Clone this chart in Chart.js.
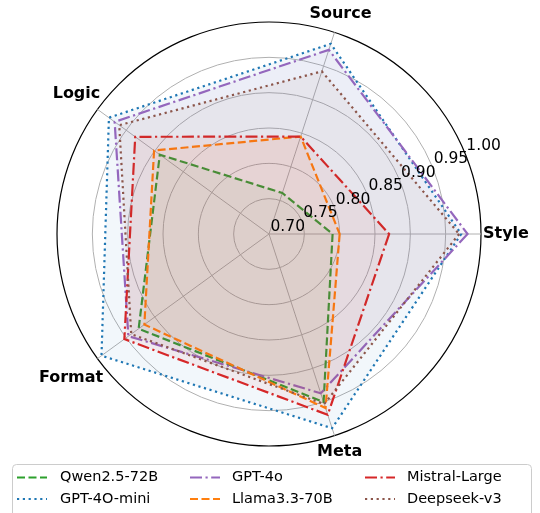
<!DOCTYPE html>
<html>
<head>
<meta charset="utf-8">
<script src="https://cdn.jsdelivr.net/npm/chart.js@4/dist/chart.umd.min.js"></script>
<style>
  html, body { margin: 0; padding: 0; background: #fff; }
  #wrap { width: 540px; height: 513px; position: relative; }
</style>
</head>
<body>
<div id="wrap"><canvas id="radar"></canvas></div>
<script>
  // Sumbu (urutan searah jarum jam mulai dari kanan)
  var categories = ["Style", "Meta", "Format", "Logic", "Source"];
  var tickLabels = ["0.70", "0.75", "0.80", "0.85", "0.90", "0.95", "1.00"];

  var modelNames = ["Qwen2.5-72B", "GPT-4O-mini", "GPT-4o", "Llama3.3-70B", "Mistral-Large", "Deepseek-v3"];

  // Nilai tiap model: Style, Meta, Format, Logic, Source
  var qwenValues      = [0.790, 0.950, 0.928, 0.891, 0.761];
  var gpt4oMiniValues = [0.972, 0.989, 0.993, 0.980, 0.983];
  var gpt4oValues     = [0.981, 0.937, 0.946, 0.970, 0.974];
  var llamaValues     = [0.800, 0.959, 0.918, 0.901, 0.845];
  var mistralValues   = [0.870, 0.969, 0.953, 0.934, 0.845];
  var deepseekValues  = [0.969, 0.953, 0.941, 0.962, 0.942];

  var seriesValues = [qwenValues, gpt4oMiniValues, gpt4oValues, llamaValues, mistralValues, deepseekValues];
  var colors = ["#2ca02c", "#1f77b4", "#9467bd", "#ff7f0e", "#d62728", "#8c564b"];

  var DASHED = [8, 3.5];
  var DOTTED = [2.2, 3.6];
  var DASHDOT = [12, 3.5, 2.2, 3.5];
  var dashes = [DASHED, DOTTED, DASHDOT, DASHED, DASHDOT, DOTTED];

  function withAlpha(hex, a) {
    var r = parseInt(hex.slice(1, 3), 16);
    var g = parseInt(hex.slice(3, 5), 16);
    var b = parseInt(hex.slice(5, 7), 16);
    return "rgba(" + r + "," + g + "," + b + "," + a + ")";
  }

  var datasets = modelNames.map(function (name, i) {
    return {
      label: name,
      data: seriesValues[i],
      borderColor: colors[i],
      backgroundColor: withAlpha(colors[i], 0.06),
      borderWidth: 2.2,
      borderDash: dashes[i],
      fill: true,
      pointRadius: 0,
      pointHoverRadius: 0,
      order: modelNames.length - 1 - i, // yang terakhir digambar paling atas
    };
  });

  // Plugin: label sumbu, label tick, dan legenda kotak 3 kolom
  var extrasPlugin = {
    id: "extras",
    afterDraw: function (chart) {
      var ctx = chart.ctx;
      var scale = chart.scales.r;
      ctx.save();

      // Label sumbu
      ctx.font = "bold 16px 'DejaVu Sans'";
      ctx.fillStyle = "#000";
      ctx.textAlign = "center";
      ctx.textBaseline = "middle";
      categories.forEach(function (cat, i) {
        var base = scale.getPointPosition(i, scale.drawingArea + 2);
        var dx = base.x - scale.xCenter;
        var dy = base.y - scale.yCenter;
        var len = Math.sqrt(dx * dx + dy * dy);
        var ux = dx / len, uy = dy / len;
        var w = ctx.measureText(cat).width;
        var extra = Math.abs(ux) * w / 2 + Math.abs(uy) * 8;
        ctx.fillText(cat, base.x + ux * extra, base.y + uy * extra);
      });

      // Label tick pada sudut 22.5 derajat
      ctx.font = "15.5px 'DejaVu Sans'";
      ctx.textAlign = "left";
      ctx.textBaseline = "alphabetic";
      var ang = 22.5 * Math.PI / 180;
      tickLabels.forEach(function (t) {
        var r = scale.getDistanceFromCenterForValue(parseFloat(t));
        var x = scale.xCenter + Math.cos(ang) * r + 1.5;
        var y = scale.yCenter - Math.sin(ang) * r - 3;
        ctx.fillText(t, x, y);
      });

      // Legenda
      ctx.fillStyle = "rgba(255,255,255,0.8)";
      ctx.strokeStyle = "#cccccc";
      ctx.lineWidth = 1;
      ctx.beginPath();
      if (ctx.roundRect) {
        ctx.roundRect(12.5, 464.5, 519, 60, 4);
      } else {
        ctx.rect(12.5, 464.5, 519, 60);
      }
      ctx.fill();
      ctx.stroke();

      var colLine = [17, 190, 365];
      var colText = [60, 232, 407];
      var rowY = [477.5, 499];
      ctx.font = "14.5px 'DejaVu Sans'";
      ctx.textBaseline = "middle";
      modelNames.forEach(function (name, i) {
        var col = Math.floor(i / 2), row = i % 2;
        ctx.strokeStyle = colors[i];
        ctx.lineWidth = 2.2;
        ctx.setLineDash(dashes[i]);
        ctx.beginPath();
        ctx.moveTo(colLine[col], rowY[row]);
        ctx.lineTo(colLine[col] + 30, rowY[row]);
        ctx.stroke();
        ctx.setLineDash([]);
        ctx.fillStyle = "#000";
        ctx.fillText(name, colText[col], rowY[row]);
      });

      ctx.restore();
    },
  };

  var ctx = document.getElementById("radar").getContext("2d");
  var radarChart = new Chart(ctx, {
    type: "radar",
    data: {
      labels: categories,
      datasets: datasets,
    },
    options: {
      responsive: true,
      maintainAspectRatio: false,
      animation: false,
      layout: {
        padding: { left: 57, right: 59, top: 22, bottom: 67 },
      },
      elements: {
        line: { tension: 0, borderJoinStyle: "miter" },
      },
      plugins: {
        legend: { display: false },
        tooltip: { enabled: false },
      },
      scales: {
        r: {
          min: 0.7,
          max: 1.0,
          startAngle: 90,
          ticks: { display: false, stepSize: 0.05 },
          pointLabels: { display: false },
          grid: {
            circular: true,
            color: function (c) {
              return c.tick && c.tick.value >= 0.999 ? "#000000" : "#b0b0b0";
            },
            lineWidth: function (c) {
              return c.tick && c.tick.value >= 0.999 ? 1.2 : 1;
            },
          },
          angleLines: { color: "#b0b0b0", lineWidth: 1 },
        },
      },
    },
    plugins: [extrasPlugin],
  });
</script>
</body>
</html>
